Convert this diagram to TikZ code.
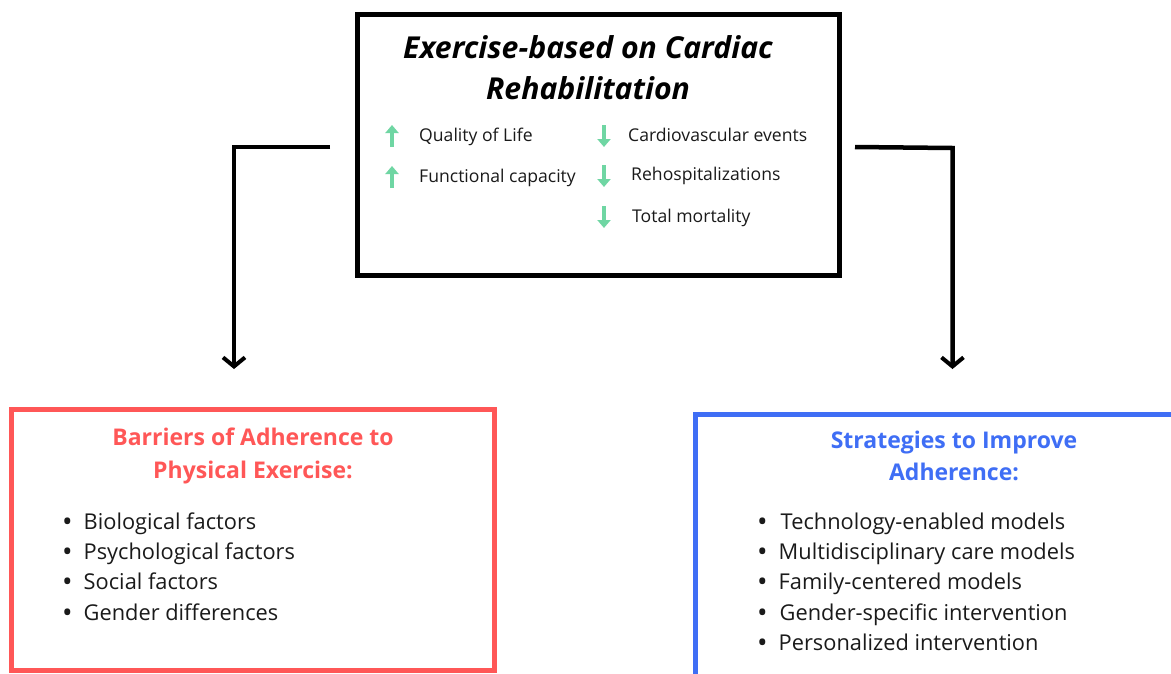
\documentclass[tikz,border=0pt]{standalone}
\usepackage{fontspec}
\setmainfont{Open Sans}
\usetikzlibrary{arrows.meta}
\definecolor{bred}{HTML}{FF5757}
\definecolor{bblue}{HTML}{3F6EF5}
\definecolor{mint}{HTML}{6FD6A3}
\definecolor{ink}{HTML}{1A1A1A}
\newcommand{\bdot}{\raisebox{-2pt}{\fontsize{28}{28}\selectfont •}}
\tikzset{
  frame/.style={line width=5pt},
  conn/.style={line width=4.5pt, -{Straight Barb[length=9pt,width=22pt,line width=4pt]}},
  uparr/.style={mint, line width=3.5pt, -{Triangle[length=8pt,width=13pt]}},
  item/.style={anchor=base west, inner sep=0pt, text=ink, font=\fontsize{17.6}{20}\selectfont},
  bul/.style={anchor=base west, inner sep=0pt, text=ink, font=\fontsize{21.8}{30}\selectfont},
  ttl/.style={inner sep=0pt, align=center},
}
\begin{document}
\begin{tikzpicture}[x=1pt,y=-1pt]
\useasboundingbox (0,0) rectangle (1171,673);
\clip (0,0) rectangle (1171,673);
\fill[white] (0,0) rectangle (1171,673);
% top box
\draw[frame] (357.5,14) rectangle (839.5,275.5);
\node (top) at (598.5,145) [minimum width=482pt, minimum height=261pt, inner sep=0pt] {};
\node[ttl, font=\fontsize{30.2}{41}\selectfont\bfseries\itshape] (ttl) at (588,67.5) {Exercise-based on Cardiac\\Rehabilitation};
% items
\node[item] (q) at (419,141) {Quality of Life};
\node[item] (f) at (419,182) {Functional capacity};
\node[item] (c) at (628,141) {Cardiovascular events};
\node[item] (r) at (631,180.5) {Rehospitalizations};
\node[item] (m) at (632,222) {Total mortality};
\draw[uparr] (392,147) -- (392,125);
\draw[uparr] (392,188) -- (392,166);
\draw[uparr] (604,125) -- (604,147);
\draw[uparr] (604,165) -- (604,187);
\draw[uparr] (604,206) -- (604,228);
% red box
\draw[frame, bred] (11.5,409.5) rectangle (494.5,670.5);
\node (barr) at (253,540) [minimum width=483pt, minimum height=261pt, inner sep=0pt] {};
\node[ttl, text=bred, font=\fontsize{23}{32.5}\selectfont\bfseries] (bt) at (253,456) {Barriers of Adherence to\\Physical Exercise:};
\node[bul] (b1) at (62,529) {\bdot\hspace{11pt}Biological factors};
\node[bul] (b2) at (62,559) {\bdot\hspace{11pt}Psychological factors};
\node[bul] (b3) at (62,589) {\bdot\hspace{11pt}Social factors};
\node[bul] (b4) at (62,620) {\bdot\hspace{11pt}Gender differences};
% blue box
\draw[frame, bblue] (695.5,414.5) rectangle (1200,700);
\node (strat) at (933,545) [minimum width=475pt, minimum height=261pt, inner sep=0pt] {};
\node[ttl, text=bblue, font=\fontsize{23}{32.5}\selectfont\bfseries] (st) at (954,456) {Strategies to Improve\\Adherence:};
\node[bul] (s1) at (757,529) {\bdot\hspace{13pt}Technology-enabled models};
\node[bul] (s2) at (757,559) {\bdot\hspace{11pt}Multidisciplinary care models};
\node[bul] (s3) at (757,589) {\bdot\hspace{11pt}Family-centered models};
\node[bul] (s4) at (757,620) {\bdot\hspace{12pt}Gender-specific intervention};
\node[bul] (s5) at (757,650) {\bdot\hspace{11pt}Personalized intervention};
% connectors
\coordinate (ls) at (330,147);
\coordinate (lc) at (234,147);
\coordinate (le) at (234,369);
\coordinate (rs) at (855,147);
\coordinate (rc) at (952.5,148);
\coordinate (re) at (952.5,369);
\draw[conn] (ls) -- (lc) -- (le);
\draw[conn] (rs) -- (rc) -- (re);
\end{tikzpicture}
\end{document}
